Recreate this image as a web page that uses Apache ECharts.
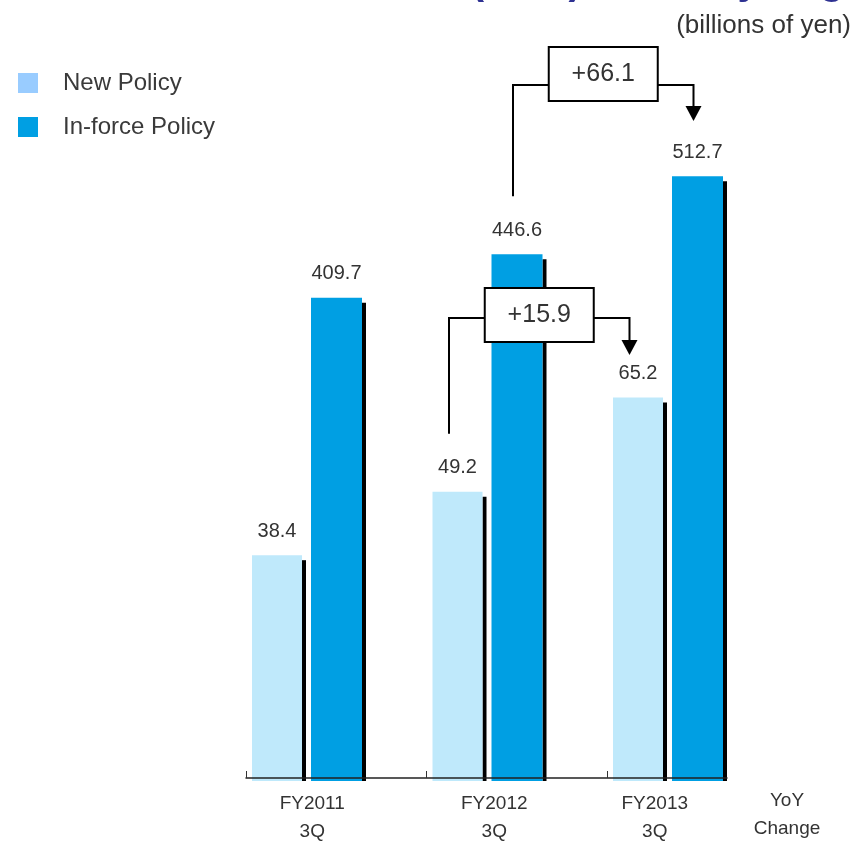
<!DOCTYPE html>
<html>
<head>
<meta charset="utf-8">
<script src="https://cdn.jsdelivr.net/npm/echarts@6/dist/echarts.min.js"></script>
<style>
html,body{margin:0;padding:0;background:#ffffff;}
#chart{width:855px;height:843px;}
</style>
</head>
<body>
<div id="chart"></div>
<script>
// ---------------- data ----------------
const categories = ['FY2011\n3Q', 'FY2012\n3Q', 'FY2013\n3Q'];
const yoyCategory = 'YoY\nChange';
const seriesNames = ['New Policy', 'In-force Policy'];
const newPolicy = [38.4, 49.2, 65.2];
const inforcePolicy = [409.7, 446.6, 512.7];
const yoyChangeLabels = ['+15.9', '+66.1'];   // New Policy, In-force Policy (FY2012 -> FY2013)
const unitLabel = '(billions of yen)';
const titleText = 'Annualized Premium (ANP) of Policy Segment';

// ---------------- style / layout ----------------
const FONT = '"Liberation Sans", Arial, Helvetica, sans-serif';
const TEXT_COLOR = '#333333';
const BAR_COLORS = ['#BFE9FB', '#009FE3'];
const LEGEND_COLORS = ['#99CCFF', '#009FE3'];
const CAT_W = 180.5;
const BAR_LAYOUT = [{ off: 6, w: 50 }, { off: 65, w: 51 }];
const LABEL_SHIFT = [48, 45, 85];

const chart = echarts.init(document.getElementById('chart'), null, { renderer: 'canvas' });

function makeRender(k) {
  return function (params, api) {
    const i = api.value(0);
    const v = api.value(1);
    const base = api.coord([i, 0]);
    const top = api.coord([i, v]);
    const bw = api.size([1, 0])[0];
    const s = bw / CAT_W;
    const L = BAR_LAYOUT[k];
    const x = base[0] - bw / 2 + L.off * s;
    const w = L.w * s;
    const h = base[1] - top[1];
    return {
      type: 'group',
      children: [
        { type: 'rect', shape: { x: x + w, y: top[1] + 5, width: 4, height: Math.max(h - 5, 0) }, style: { fill: '#000000' } },
        { type: 'rect', shape: { x: x, y: top[1], width: w, height: h }, style: { fill: BAR_COLORS[k] } },
        { type: 'text', style: { text: v.toFixed(1), x: x + w / 2, y: top[1] - 24,
            align: 'center', textAlign: 'center', verticalAlign: 'middle', textVerticalAlign: 'middle',
            fill: TEXT_COLOR, fontSize: 20, fontFamily: FONT } }
      ]
    };
  };
}

const richLabels = {};
LABEL_SHIFT.forEach(function (p, i) {
  richLabels['c' + i] = { fontSize: 19, lineHeight: 28, color: TEXT_COLOR, fontFamily: FONT, padding: [0, p, 0, 0] };
});

const option = {
  animation: false,
  backgroundColor: '#ffffff',
  legend: {
    orient: 'vertical', left: 13, top: 66,
    itemWidth: 20, itemHeight: 20, itemGap: 20, icon: 'rect',
    selectedMode: false,
    textStyle: { fontSize: 24, color: '#3a3a3a', fontFamily: FONT, padding: [0, 0, 0, 20] },
    data: [
      { name: seriesNames[0], itemStyle: { color: LEGEND_COLORS[0] } },
      { name: seriesNames[1], itemStyle: { color: LEGEND_COLORS[1] } }
    ]
  },
  grid: [
    { left: 246, width: 541.5, top: 150, bottom: 62 },
    { left: 246, width: 481, top: 150, bottom: 62 }
  ],
  xAxis: [
    {
      type: 'category', gridIndex: 0, data: categories, boundaryGap: true,
      axisLine: { show: false }, axisTick: { show: false }, splitLine: { show: false },
      axisLabel: {
        interval: 0, margin: 9,
        formatter: function (val, idx) {
          return val.split('\n').map(function (s) { return '{c' + idx + '|' + s + '}'; }).join('\n');
        },
        rich: richLabels
      }
    },
    {
      type: 'value', gridIndex: 1, min: 0, max: 481 / CAT_W, interval: 1, z: 10,
      axisLine: { show: true, lineStyle: { color: '#222222', width: 1.5 } },
      axisTick: { show: true, inside: true, length: 7, customValues: [0, 1, 2], lineStyle: { color: '#333333', width: 1 } },
      axisLabel: { show: false }, splitLine: { show: false },
      name: yoyCategory, nameLocation: 'end', nameGap: 60,
      nameTextStyle: { fontSize: 19, lineHeight: 28, color: TEXT_COLOR, fontFamily: FONT,
        align: 'center', verticalAlign: 'top', padding: [9, 0, 0, 0] }
    }
  ],
  yAxis: [
    { type: 'value', gridIndex: 0, min: 0, max: 107.3, show: false, splitLine: { show: false } },
    { type: 'value', gridIndex: 0, min: 0, max: 535, show: false, splitLine: { show: false } },
    { type: 'value', gridIndex: 1, min: 0, max: 1, show: false, splitLine: { show: false } }
  ],
  series: [
    {
      name: seriesNames[0], type: 'custom', xAxisIndex: 0, yAxisIndex: 0,
      itemStyle: { color: LEGEND_COLORS[0] },
      renderItem: makeRender(0), encode: { x: 0, y: 1 },
      data: newPolicy.map(function (v, i) { return [i, v]; })
    },
    {
      name: seriesNames[1], type: 'custom', xAxisIndex: 0, yAxisIndex: 1,
      itemStyle: { color: LEGEND_COLORS[1] },
      renderItem: makeRender(1), encode: { x: 0, y: 1 },
      data: inforcePolicy.map(function (v, i) { return [i, v]; })
    }
  ]
};
chart.setOption(option);

// ------------- annotations anchored to the data -------------
const ANNOTATIONS = [
  { series: 0, values: newPolicy, from: 1, to: 2, text: yoyChangeLabels[0], boxTop: 288, lineY: 318, tipY: 355, dx: -8.5 },
  { series: 1, values: inforcePolicy, from: 1, to: 2, text: yoyChangeLabels[1], boxTop: 47, lineY: 85, tipY: 121, dx: -4 }
];
const BOX_W = 109, BOX_H = 54;
const GZ = 100;

function barCenter(k, cat, val) {
  const p = chart.convertToPixel({ xAxisIndex: 0, yAxisIndex: k }, [cat, val]);
  const L = BAR_LAYOUT[k];
  return [p[0] - CAT_W / 2 + L.off + L.w / 2, p[1]];
}

const graphics = [];
graphics.push({
  type: 'text', silent: true, z: GZ,
  style: { text: titleText, x: 64, y: -17, align: 'left', textAlign: 'left',
    verticalAlign: 'middle', textVerticalAlign: 'middle',
    fill: '#2E3192', font: 'bold 40px ' + FONT }
});
graphics.push({
  type: 'text', silent: true, z: GZ,
  style: { text: unitLabel, x: 851, y: 26, align: 'right', textAlign: 'right',
    verticalAlign: 'middle', textVerticalAlign: 'middle',
    fill: TEXT_COLOR, font: '26px ' + FONT }
});

ANNOTATIONS.forEach(function (a) {
  const pFrom = barCenter(a.series, a.from, a.values[a.from]);
  const pTo = barCenter(a.series, a.to, a.values[a.to]);
  const xl = pFrom[0] + a.dx;
  const xr = pTo[0] + a.dx;
  const leftBottom = pFrom[1] - 58;
  const cx = (xl + xr) / 2;
  const bx = cx - BOX_W / 2;
  graphics.push({ type: 'polyline', silent: true, z: GZ, shape: { points: [[xl, leftBottom], [xl, a.lineY], [bx, a.lineY]] },
    style: { stroke: '#000', lineWidth: 2, fill: null } });
  graphics.push({ type: 'polyline', silent: true, z: GZ, shape: { points: [[bx + BOX_W, a.lineY], [xr, a.lineY], [xr, a.tipY - 14]] },
    style: { stroke: '#000', lineWidth: 2, fill: null } });
  graphics.push({ type: 'polygon', silent: true, z: GZ, shape: { points: [[xr - 8, a.tipY - 15], [xr + 8, a.tipY - 15], [xr, a.tipY]] },
    style: { fill: '#000' } });
  graphics.push({ type: 'rect', silent: true, z: GZ, shape: { x: bx, y: a.boxTop, width: BOX_W, height: BOX_H },
    style: { fill: '#fff', stroke: '#000', lineWidth: 2 } });
  graphics.push({ type: 'text', silent: true, z: GZ + 1,
    style: { text: a.text, x: cx, y: a.boxTop + BOX_H / 2, align: 'center', textAlign: 'center',
      verticalAlign: 'middle', textVerticalAlign: 'middle', fill: TEXT_COLOR, font: '25px ' + FONT } });
});

chart.setOption({ graphic: graphics });
</script>
</body>
</html>
